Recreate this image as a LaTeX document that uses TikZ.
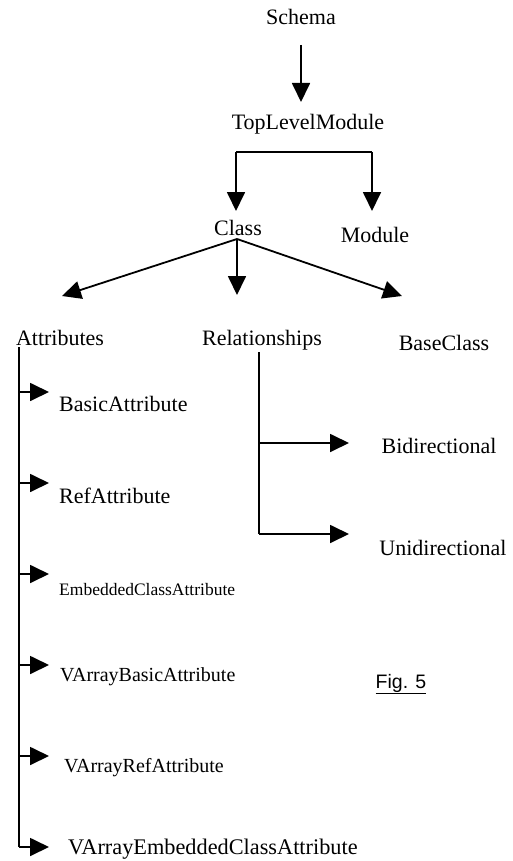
\documentclass[tikz,border=0pt]{standalone}
\usepackage{fontspec}
\setmainfont{Liberation Serif}
\newfontfamily\figfont{Liberation Sans}
\usetikzlibrary{arrows.meta}
\begin{document}
\begin{tikzpicture}[x=1pt,y=-1pt,
  lbl/.style={font=\fontsize{22}{24}\selectfont, inner sep=0pt, anchor=base},
  lbll/.style={lbl, anchor=base west},
  small/.style={lbll, font=\fontsize{17.5}{20}\selectfont},
  conn/.style={line width=1.8pt, -{Triangle[length=19pt,width=18pt]}},
  plain/.style={line width=1.8pt}]
\useasboundingbox (0,0) rectangle (512,861);
% labels
\node[lbl] (schema) at (301,25) {Schema};
\node[lbl] (tlm) at (308,129.5) {TopLevelModule};
\node[lbl] (class) at (238,235) {Class};
\node[lbl] (module) at (375,242) {Module};
\node[lbl] (attrs) at (60,345) {Attributes};
\node[lbl] (rels) at (262,345) {Relationships};
\node[lbl] (base) at (444,350) {BaseClass};
\node[lbll] (basic) at (59,411.5) {BasicAttribute};
\node[lbll] (ref) at (59,503) {RefAttribute};
\node[small] (emb) at (59,595) {EmbeddedClassAttribute};
\node[lbll, font=\fontsize{20}{22}\selectfont] (vbasic) at (60,681) {VArrayBasicAttribute};
\node[lbll, font=\fontsize{20}{22}\selectfont] (vref) at (64,772) {VArrayRefAttribute};
\node[lbll, font=\fontsize{22.3}{24}\selectfont] (vemb) at (68,854.5) {VArrayEmbeddedClassAttribute};
\node[lbl] (bi) at (439,453) {Bidirectional};
\node[lbl] (uni) at (443,555) {Unidirectional};
\node[lbl, font=\figfont\fontsize{19.5}{22}\selectfont] (fig) at (401,688) {\underline{Fig. 5}};
% connector end points
\coordinate (s1) at (301,45);
\coordinate (s2) at (301,102);
\coordinate (tl) at (236,152);
\coordinate (tr) at (372,152);
\coordinate (tlb) at (236,211);
\coordinate (trb) at (372,211);
\coordinate (cl) at (237,239);
\coordinate (clA) at (62,296);
\coordinate (clR) at (237,295);
\coordinate (clB) at (402,296);
\coordinate (at0) at (19,347);
\coordinate (re0) at (259,352);
% connectors
\draw[conn] (s1) -- (s2);
\draw[plain] (tl) -- (tr);
\draw[conn] (tl) -- (tlb);
\draw[conn] (tr) -- (trb);
\draw[conn] (cl) -- (clA);
\draw[conn] (cl) -- (clR);
\draw[conn] (cl) -- (clB);
\draw[plain] (at0) -- (19,847);
\foreach \yy in {392,483,574,665,756,847}{
  \draw[conn] (19,\yy) -- (49,\yy);
}
\draw[plain] (re0) -- (259,534);
\draw[conn] (259,443) -- (349,443);
\draw[conn] (259,534) -- (349,534);
\end{tikzpicture}
\end{document}
